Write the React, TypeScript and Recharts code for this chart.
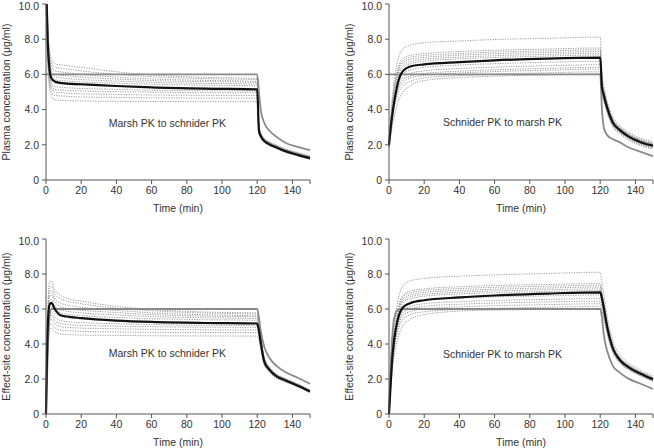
import React from "react";
import { LineChart, Line, XAxis, YAxis, ReferenceDot, Label } from "recharts";

// sample times (min) shared by every curve
const TIMES = [0, 1, 2, 3, 5, 8, 12, 20, 40, 60, 90, 120, 121, 122, 124, 127, 131, 136, 143, 150];
const X_TICKS = [0, 20, 40, 60, 80, 100, 120, 140, 150];
const Y_TICKS = [0, 2, 4, 6, 8, 10];

// Plasma, Marsh PK to schnider PK
const PLASMA_MS_TARGET = [6, 6, 6, 6, 6, 6, 6, 6, 6, 6, 6, 6, 5.0, 4.0, 3.25, 2.8, 2.45, 2.12, 1.88, 1.7];
const PLASMA_MS_MEAN = [11.5, 7.8, 6.3, 5.8, 5.6, 5.52, 5.48, 5.44, 5.34, 5.26, 5.19, 5.15, 2.8, 2.5, 2.22, 2.02, 1.85, 1.64, 1.43, 1.24];
const PLASMA_MS_SUBJECTS = [
  [12.8, 8.9, 7.4, 6.9, 6.6, 6.55, 6.5, 6.4, 6.15, 5.97, 5.83, 5.77, 3.05, 2.7, 2.38, 2.17, 1.98, 1.77, 1.56, 1.36],
  [12.5, 8.7, 7.2, 6.7, 6.4, 6.36, 6.3, 6.2, 6.0, 5.87, 5.76, 5.7, 3.0, 2.66, 2.35, 2.15, 1.96, 1.75, 1.54, 1.34],
  [12.2, 8.5, 7.0, 6.5, 6.2, 6.15, 6.1, 6.0, 5.85, 5.74, 5.66, 5.6, 2.96, 2.63, 2.33, 2.13, 1.94, 1.73, 1.52, 1.33],
  [12.0, 8.3, 6.8, 6.3, 6.0, 5.96, 5.92, 5.85, 5.74, 5.65, 5.59, 5.55, 2.93, 2.61, 2.31, 2.11, 1.92, 1.71, 1.5, 1.31],
  [11.8, 8.1, 6.6, 6.1, 5.85, 5.81, 5.77, 5.71, 5.62, 5.55, 5.49, 5.45, 2.9, 2.59, 2.29, 2.09, 1.91, 1.7, 1.49, 1.29],
  [11.6, 7.9, 6.4, 5.95, 5.7, 5.66, 5.62, 5.57, 5.5, 5.44, 5.39, 5.35, 2.87, 2.56, 2.27, 2.07, 1.89, 1.68, 1.47, 1.28],
  [11.4, 7.7, 6.2, 5.75, 5.5, 5.47, 5.43, 5.39, 5.32, 5.27, 5.23, 5.2, 2.84, 2.53, 2.25, 2.05, 1.87, 1.66, 1.46, 1.26],
  [11.2, 7.5, 6.0, 5.55, 5.3, 5.27, 5.24, 5.2, 5.15, 5.1, 5.07, 5.05, 2.8, 2.5, 2.23, 2.03, 1.85, 1.64, 1.44, 1.24],
  [11.0, 7.3, 5.85, 5.4, 5.15, 5.12, 5.09, 5.06, 5.02, 4.99, 4.96, 4.95, 2.76, 2.47, 2.2, 2.01, 1.83, 1.62, 1.42, 1.22],
  [10.8, 7.1, 5.7, 5.25, 5.0, 4.97, 4.94, 4.9, 4.86, 4.83, 4.81, 4.8, 2.72, 2.44, 2.18, 1.99, 1.81, 1.6, 1.4, 1.2],
  [10.6, 6.9, 5.5, 5.05, 4.8, 4.78, 4.75, 4.72, 4.69, 4.67, 4.66, 4.65, 2.68, 2.41, 2.16, 1.97, 1.79, 1.58, 1.38, 1.18],
  [10.4, 6.6, 5.2, 4.8, 4.55, 4.53, 4.51, 4.49, 4.47, 4.46, 4.45, 4.45, 2.64, 2.38, 2.14, 1.95, 1.77, 1.56, 1.36, 1.16],
];

// Plasma, Schnider PK to marsh PK
const PLASMA_SM_TARGET = [6, 6, 6, 6, 6, 6, 6, 6, 6, 6, 6, 6, 4.0, 3.0, 2.55, 2.33, 2.15, 1.86, 1.6, 1.36];
const PLASMA_SM_MEAN = [2.0, 3.0, 3.8, 4.45, 5.5, 6.2, 6.45, 6.57, 6.7, 6.8, 6.9, 6.95, 5.3, 4.85, 4.1, 3.3, 2.85, 2.48, 2.15, 1.95];
const PLASMA_SM_SUBJECTS = [
  [2.2, 3.6, 4.8, 5.7, 6.8, 7.45, 7.65, 7.8, 7.9, 7.98, 8.05, 8.12, 6.0, 5.4, 4.5, 3.65, 3.12, 2.72, 2.38, 2.18],
  [2.1, 3.4, 4.5, 5.3, 6.3, 6.9, 7.08, 7.18, 7.3, 7.37, 7.44, 7.5, 5.6, 5.1, 4.3, 3.5, 3.02, 2.64, 2.3, 2.1],
  [2.1, 3.3, 4.4, 5.2, 6.2, 6.78, 6.97, 7.07, 7.19, 7.27, 7.34, 7.4, 5.55, 5.05, 4.27, 3.47, 3.0, 2.62, 2.28, 2.08],
  [2.0, 3.3, 4.3, 5.1, 6.1, 6.66, 6.85, 6.96, 7.09, 7.17, 7.24, 7.3, 5.5, 5.0, 4.23, 3.44, 2.97, 2.6, 2.26, 2.06],
  [2.0, 3.2, 4.2, 5.0, 5.95, 6.52, 6.72, 6.85, 6.98, 7.06, 7.14, 7.2, 5.45, 4.97, 4.2, 3.4, 2.94, 2.57, 2.23, 2.03],
  [2.0, 3.1, 4.1, 4.9, 5.8, 6.4, 6.6, 6.74, 6.88, 6.96, 7.04, 7.1, 5.4, 4.93, 4.17, 3.37, 2.92, 2.55, 2.21, 2.01],
  [1.95, 3.0, 3.9, 4.6, 5.5, 6.05, 6.25, 6.4, 6.53, 6.61, 6.69, 6.75, 5.25, 4.8, 4.07, 3.28, 2.84, 2.47, 2.14, 1.94],
  [1.95, 2.9, 3.8, 4.5, 5.35, 5.85, 6.05, 6.2, 6.33, 6.41, 6.49, 6.55, 5.15, 4.72, 4.0, 3.22, 2.79, 2.43, 2.1, 1.9],
  [1.9, 2.85, 3.7, 4.35, 5.2, 5.7, 5.9, 6.05, 6.18, 6.26, 6.34, 6.4, 5.08, 4.66, 3.95, 3.18, 2.75, 2.4, 2.07, 1.87],
  [1.9, 2.8, 3.6, 4.25, 5.05, 5.55, 5.78, 5.94, 6.08, 6.16, 6.24, 6.3, 5.02, 4.61, 3.91, 3.14, 2.72, 2.37, 2.04, 1.84],
  [1.9, 2.7, 3.45, 4.05, 4.85, 5.35, 5.6, 5.8, 5.93, 6.01, 6.09, 6.15, 4.95, 4.55, 3.86, 3.1, 2.68, 2.33, 2.0, 1.8],
  [1.85, 2.5, 3.1, 3.6, 4.4, 5.0, 5.35, 5.65, 5.82, 5.9, 5.97, 6.02, 4.85, 4.47, 3.8, 3.05, 2.63, 2.28, 1.96, 1.76],
];

// Effect-site, Marsh PK to schnider PK
const EFFECT_MS_TARGET = [0, 3.5, 5.5, 6, 6, 6, 6, 6, 6, 6, 6, 6, 5.5, 4.75, 3.85, 3.2, 2.75, 2.4, 2.07, 1.73];
const EFFECT_MS_MEAN = [0, 5.0, 6.25, 6.35, 6.0, 5.66, 5.57, 5.48, 5.34, 5.26, 5.2, 5.17, 4.75, 4.1, 3.0, 2.52, 2.15, 1.92, 1.62, 1.29];
const EFFECT_MS_SUBJECTS = [
  [0, 5.8, 7.55, 7.6, 7.1, 6.8, 6.6, 6.45, 6.15, 5.97, 5.83, 5.77, 5.25, 4.45, 3.25, 2.68, 2.28, 2.03, 1.72, 1.38],
  [0, 5.6, 7.2, 7.3, 6.85, 6.6, 6.45, 6.3, 6.05, 5.9, 5.77, 5.7, 5.2, 4.4, 3.22, 2.66, 2.26, 2.02, 1.71, 1.37],
  [0, 5.4, 6.95, 7.05, 6.6, 6.35, 6.22, 6.1, 5.92, 5.78, 5.67, 5.6, 5.1, 4.35, 3.18, 2.63, 2.24, 2.0, 1.69, 1.36],
  [0, 5.2, 6.7, 6.8, 6.4, 6.15, 6.03, 5.93, 5.8, 5.68, 5.6, 5.55, 5.05, 4.3, 3.15, 2.61, 2.23, 1.99, 1.68, 1.35],
  [0, 5.0, 6.45, 6.55, 6.2, 5.97, 5.87, 5.78, 5.66, 5.57, 5.5, 5.45, 4.98, 4.25, 3.12, 2.59, 2.21, 1.97, 1.67, 1.34],
  [0, 4.85, 6.25, 6.35, 6.0, 5.8, 5.7, 5.62, 5.52, 5.45, 5.39, 5.35, 4.9, 4.2, 3.08, 2.57, 2.19, 1.96, 1.66, 1.33],
  [0, 4.7, 6.05, 6.1, 5.8, 5.58, 5.5, 5.43, 5.35, 5.29, 5.23, 5.2, 4.8, 4.13, 3.03, 2.54, 2.17, 1.94, 1.64, 1.31],
  [0, 4.5, 5.8, 5.85, 5.55, 5.35, 5.28, 5.22, 5.16, 5.11, 5.07, 5.05, 4.68, 4.05, 2.98, 2.51, 2.14, 1.92, 1.62, 1.29],
  [0, 4.3, 5.6, 5.65, 5.35, 5.18, 5.12, 5.07, 5.02, 4.99, 4.96, 4.95, 4.6, 3.98, 2.94, 2.48, 2.12, 1.9, 1.61, 1.28],
  [0, 4.1, 5.35, 5.4, 5.15, 5.0, 4.95, 4.91, 4.87, 4.84, 4.81, 4.8, 4.5, 3.9, 2.9, 2.45, 2.1, 1.88, 1.59, 1.26],
  [0, 3.9, 5.1, 5.15, 4.92, 4.8, 4.76, 4.72, 4.69, 4.67, 4.66, 4.65, 4.38, 3.82, 2.85, 2.42, 2.07, 1.86, 1.57, 1.24],
  [0, 3.7, 4.85, 4.9, 4.7, 4.58, 4.54, 4.51, 4.49, 4.47, 4.46, 4.45, 4.25, 3.72, 2.8, 2.38, 2.04, 1.83, 1.55, 1.22],
];

// Effect-site, Schnider PK to marsh PK
const EFFECT_SM_TARGET = [0, 2.8, 4.6, 5.5, 5.95, 6, 6, 6, 6, 6, 6, 6, 5.5, 4.55, 3.6, 2.78, 2.38, 2.02, 1.73, 1.43];
const EFFECT_SM_MEAN = [0, 1.8, 3.35, 4.3, 5.4, 6.1, 6.33, 6.5, 6.66, 6.77, 6.88, 6.95, 6.6, 6.1, 4.95, 3.8, 3.1, 2.68, 2.3, 1.98];
const EFFECT_SM_SUBJECTS = [
  [0, 2.2, 3.9, 5.0, 6.4, 7.35, 7.6, 7.75, 7.87, 7.95, 8.03, 8.1, 7.5, 6.9, 5.6, 4.25, 3.42, 2.93, 2.5, 2.18],
  [0, 2.0, 3.6, 4.65, 5.95, 6.8, 7.02, 7.15, 7.27, 7.34, 7.4, 7.45, 6.95, 6.4, 5.25, 4.02, 3.27, 2.82, 2.41, 2.1],
  [0, 2.0, 3.55, 4.6, 5.85, 6.7, 6.92, 7.05, 7.17, 7.24, 7.3, 7.35, 6.88, 6.33, 5.2, 3.99, 3.25, 2.8, 2.4, 2.08],
  [0, 1.95, 3.5, 4.5, 5.75, 6.58, 6.8, 6.94, 7.06, 7.13, 7.2, 7.25, 6.8, 6.27, 5.15, 3.95, 3.22, 2.78, 2.38, 2.06],
  [0, 1.9, 3.45, 4.42, 5.65, 6.47, 6.69, 6.83, 6.96, 7.03, 7.1, 7.15, 6.72, 6.2, 5.1, 3.92, 3.2, 2.76, 2.36, 2.05],
  [0, 1.9, 3.4, 4.35, 5.55, 6.36, 6.58, 6.73, 6.86, 6.93, 7.0, 7.05, 6.65, 6.14, 5.06, 3.89, 3.18, 2.74, 2.35, 2.03],
  [0, 1.85, 3.3, 4.2, 5.35, 6.12, 6.35, 6.5, 6.62, 6.69, 6.75, 6.8, 6.45, 5.96, 4.93, 3.8, 3.11, 2.69, 2.3, 1.98],
  [0, 1.8, 3.2, 4.08, 5.2, 5.93, 6.15, 6.3, 6.42, 6.49, 6.55, 6.6, 6.3, 5.83, 4.84, 3.74, 3.06, 2.65, 2.27, 1.95],
  [0, 1.75, 3.1, 3.95, 5.05, 5.78, 6.0, 6.15, 6.27, 6.34, 6.4, 6.45, 6.18, 5.73, 4.77, 3.69, 3.03, 2.62, 2.24, 1.93],
  [0, 1.7, 3.0, 3.85, 4.9, 5.62, 5.85, 6.0, 6.12, 6.19, 6.25, 6.3, 6.07, 5.63, 4.7, 3.64, 2.99, 2.59, 2.22, 1.91],
  [0, 1.65, 2.9, 3.7, 4.72, 5.42, 5.67, 5.84, 5.97, 6.04, 6.1, 6.15, 5.95, 5.52, 4.62, 3.59, 2.95, 2.56, 2.19, 1.88],
  [0, 1.5, 2.6, 3.35, 4.3, 5.05, 5.4, 5.68, 5.88, 5.94, 5.98, 6.02, 5.85, 5.43, 4.55, 3.55, 2.92, 2.53, 2.17, 1.86],
];

const FONT = '"Liberation Sans", Arial, sans-serif';
const TEXT = "#333";
const AXIS = "#555";
const FS = 10.5;

function buildRows(target: number[], mean: number[], subjects: number[][]) {
  return TIMES.map((t, i) => {
    const row: Record<string, number> = { t, target: target[i], mean: mean[i] };
    subjects.forEach((s, k) => {
      row[`s${k}`] = s[i];
    });
    return row;
  });
}

// y tick: the top label is nudged down a little so it is not clipped by the page edge
function YTick(props: any) {
  const { x, y, payload } = props;
  const v = payload.value as number;
  const label = v === 0 ? "0" : v.toFixed(1);
  const shift = v === 10 ? 2 : 0;
  return (
    <text x={x} y={y + shift} dy="0.355em" textAnchor="end" fill={TEXT} fontSize={FS} fontFamily={FONT}>
      {label}
    </text>
  );
}

interface PanelProps {
  left: number;
  top: number;
  width: number;
  height: number;
  right: number;
  yTitle: string;
  note: string;
  noteX: number;
  noteY: number;
  target: number[];
  mean: number[];
  subjects: number[][];
}

function Panel({ left, top, width, height, right, yTitle, note, noteX, noteY, target, mean, subjects }: PanelProps) {
  const data = buildRows(target, mean, subjects);
  const yw = 46;
  const xh = 34;
  const plotTop = 4;
  const plotH = height - plotTop - xh;
  const plotW = width - yw - right;

  return (
    <div style={{ position: "absolute", left, top }}>
      <LineChart width={width} height={height} data={data} margin={{ top: plotTop, right, bottom: 0, left: 0 }}>
        <XAxis
          dataKey="t"
          type="number"
          domain={[0, 150]}
          ticks={X_TICKS}
          interval={0}
          tickFormatter={(v: number) => (v === 150 ? "" : String(v))}
          height={xh}
          tickSize={4}
          tickMargin={3}
          axisLine={{ stroke: AXIS }}
          tickLine={{ stroke: AXIS }}
          tick={{ fill: TEXT, fontSize: FS, fontFamily: FONT }}
        >
          <Label
            content={() => (
              <text
                x={yw + plotW / 2}
                y={plotTop + plotH + 28}
                textAnchor="middle"
                dominantBaseline="central"
                fill={TEXT}
                fontSize={FS}
                fontFamily={FONT}
              >
                Time (min)
              </text>
            )}
          />
        </XAxis>
        <YAxis
          type="number"
          domain={[0, 10]}
          allowDataOverflow
          ticks={Y_TICKS}
          interval={0}
          width={yw}
          tickSize={4}
          tickMargin={3}
          axisLine={{ stroke: AXIS }}
          tickLine={{ stroke: AXIS }}
          tick={<YTick />}
        >
          <Label
            content={() => {
              const cx = 6;
              const cy = plotTop + plotH / 2;
              return (
                <text
                  x={cx}
                  y={cy}
                  transform={`rotate(-90 ${cx} ${cy})`}
                  textAnchor="middle"
                  dominantBaseline="central"
                  fill={TEXT}
                  fontSize={FS}
                  fontFamily={FONT}
                >
                  {yTitle}
                </text>
              );
            }}
          />
        </YAxis>
        {subjects.map((_, k) => (
          <Line
            key={k}
            type="monotone"
            dataKey={`s${k}`}
            stroke="#9a9a9a"
            strokeWidth={1}
            strokeDasharray="1.2 1.3"
            dot={false}
            activeDot={false}
            isAnimationActive={false}
          />
        ))}
        <Line
          type="monotone"
          dataKey="target"
          stroke="#8a8a8a"
          strokeWidth={1.8}
          dot={false}
          activeDot={false}
          isAnimationActive={false}
        />
        <Line
          type="monotone"
          dataKey="mean"
          stroke="#111"
          strokeWidth={2.2}
          dot={false}
          activeDot={false}
          isAnimationActive={false}
        />
        <ReferenceDot
          x={noteX}
          y={noteY}
          r={0}
          fill="none"
          stroke="none"
          label={{ value: note, position: "center", fill: TEXT, fontSize: FS, fontFamily: FONT }}
        />
      </LineChart>
    </div>
  );
}

export default function App() {
  return (
    <div style={{ position: "absolute", left: 0, top: 0, width: 654, height: 448, background: "#fff" }}>
      <Panel
        left={0}
        top={0}
        width={318}
        height={214}
        right={8}
        yTitle="Plasma concentration (μg/ml)"
        note="Marsh PK to schnider PK"
        noteX={69}
        noteY={3.25}
        target={PLASMA_MS_TARGET}
        mean={PLASMA_MS_MEAN}
        subjects={PLASMA_MS_SUBJECTS}
      />
      <Panel
        left={343}
        top={0}
        width={311}
        height={214}
        right={1}
        yTitle="Plasma concentration (μg/ml)"
        note="Schnider PK to marsh PK"
        noteX={64.5}
        noteY={3.27}
        target={PLASMA_SM_TARGET}
        mean={PLASMA_SM_MEAN}
        subjects={PLASMA_SM_SUBJECTS}
      />
      <Panel
        left={0}
        top={235}
        width={318}
        height={213}
        right={8}
        yTitle="Effect-site concentration (μg/ml)"
        note="Marsh PK to schnider PK"
        noteX={69}
        noteY={3.47}
        target={EFFECT_MS_TARGET}
        mean={EFFECT_MS_MEAN}
        subjects={EFFECT_MS_SUBJECTS}
      />
      <Panel
        left={343}
        top={235}
        width={311}
        height={213}
        right={1}
        yTitle="Effect-site concentration (μg/ml)"
        note="Schnider PK to marsh PK"
        noteX={64.5}
        noteY={3.43}
        target={EFFECT_SM_TARGET}
        mean={EFFECT_SM_MEAN}
        subjects={EFFECT_SM_SUBJECTS}
      />
    </div>
  );
}
